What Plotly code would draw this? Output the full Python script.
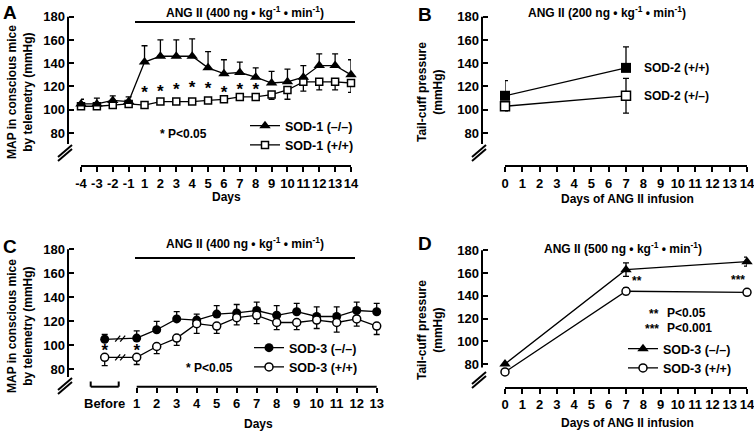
import plotly.graph_objects as go

W, H = 754, 432
FONT = "Liberation Sans, Arial"


def px(x):
    return x / W


def py(y):
    return 1 - y / H


# ---------------- data ----------------
# Panel A  (telemetry, SOD-1)
a_days = ["-4", "-3", "-2", "-1", "1", "2", "3", "4", "5", "6", "7", "8", "9", "10", "11", "12", "13", "14"]
a_ko = [105, 105, 108, 107, 141, 146, 146, 146, 136, 131, 132, 128, 123, 124, 128, 138, 138, 130]
a_ko_err = [4, 5, 4, 4, 14, 14, 14, 15, 14, 12, 9, 8, 10, 11, 10, 10, 10, 13]
a_wt = [103, 103, 104, 105, 104, 107, 107, 107, 108, 109, 111, 111, 113, 117, 124, 124, 124, 123]
a_wt_err = [2, 2, 2, 2, 2, 2, 2, 2, 2, 2, 2, 2, 4, 8, 8, 7, 7, 8]
a_sig_days = ["1", "2", "3", "4", "5", "6", "7", "8"]
a_sig_y = [114, 115, 116, 118, 117, 114, 116, 116]

# Panel B  (tail cuff, SOD-2)
b_days = [0, 7]
b_wt = [112, 136]
b_wt_err = [13, 18]
b_het = [103, 112]
b_het_err = [4, 15]

# Panel C  (telemetry, SOD-3)
c_labels = ["Before", "1", "2", "3", "4", "5", "6", "7", "8", "9", "10", "11", "12", "13"]
c_ko = [105, 106, 113, 122, 121, 126, 127, 129, 125, 128, 124, 124, 129, 128]
c_ko_err = [4, 6, 7, 6, 5, 7, 7, 7, 8, 7, 8, 8, 7, 7]
c_wt = [90, 90, 99, 106, 118, 116, 123, 125, 119, 119, 121, 119, 122, 116]
c_wt_err = [7, 6, 6, 6, 8, 6, 6, 7, 6, 6, 7, 8, 6, 7]
c_sig_labels = ["Before", "1"]
c_sig_y = [95, 95]

# Panel D  (tail cuff, SOD-3)
d_days = [0, 7, 14]
d_ko = [80, 163, 170]
d_ko_err = [0, 6, 4]
d_wt = [73, 144, 143]
d_wt_err = [0, 3, 1]

y_ticks = [80, 100, 120, 140, 160, 180]

# ---------------- helpers ----------------
BLACK = "black"
C_BEFORE_POS = -0.6
c_pos = [C_BEFORE_POS] + [int(v) for v in c_labels[1:]]
c_sig_pos = [c_pos[c_labels.index(l)] for l in c_sig_labels]


def y_setup(p180, ppu, pbottom, vtop=182):
    ptop = p180 - (vtop - 180) * ppu
    vbot = 180 - (pbottom - p180) / ppu
    return dict(domain=[py(pbottom), py(ptop)], range=[vbot, vtop])


def err(plus, minus):
    return dict(type="data", symmetric=False, array=plus, arrayminus=minus,
                color=BLACK, thickness=1.3, width=3)


def zeros(n):
    return [0] * n


FS_TICK = 13
FS = 12
FS_LEG = 12.5
tickfont = dict(family=FONT, size=FS_TICK, color=BLACK, weight="bold")

fig = go.Figure()

# ---- Panel A ----
fig.add_trace(go.Scatter(x=a_days, y=a_wt, mode="lines+markers", name="SOD-1 (+/+)",
                         xaxis="x", yaxis="y", legend="legend", cliponaxis=False,
                         line=dict(color=BLACK, width=1.3),
                         marker=dict(symbol="square", size=7, color="white", line=dict(color=BLACK, width=1.5)),
                         error_y=err(zeros(len(a_wt)), a_wt_err)))
fig.add_trace(go.Scatter(x=a_days, y=a_ko, mode="lines+markers", name="SOD-1 (\u2013/\u2013)",
                         xaxis="x", yaxis="y", legend="legend", cliponaxis=False,
                         line=dict(color=BLACK, width=1.3),
                         marker=dict(symbol="triangle-up", size=10, color=BLACK),
                         error_y=err(a_ko_err, zeros(len(a_ko)))))
fig.add_trace(go.Scatter(x=a_sig_days, y=a_sig_y, mode="text", text=["*"] * len(a_sig_days),
                         textfont=dict(family=FONT, size=17, color=BLACK, weight="bold"),
                         xaxis="x", yaxis="y", showlegend=False, cliponaxis=False))

# ---- Panel B ----
fig.add_trace(go.Scatter(x=b_days, y=b_het, mode="lines+markers", showlegend=False,
                         xaxis="x2", yaxis="y2", cliponaxis=False,
                         line=dict(color=BLACK, width=1.3),
                         marker=dict(symbol="square", size=9, color="white", line=dict(color=BLACK, width=1.5)),
                         error_y=err(b_het_err, b_het_err)))
fig.add_trace(go.Scatter(x=b_days, y=b_wt, mode="lines+markers", showlegend=False,
                         xaxis="x2", yaxis="y2", cliponaxis=False,
                         line=dict(color=BLACK, width=1.3),
                         marker=dict(symbol="square", size=10, color=BLACK),
                         error_y=err(b_wt_err, zeros(len(b_wt)))))

# ---- Panel C ----
fig.add_trace(go.Scatter(x=c_pos, y=c_ko, mode="lines+markers", name="SOD-3 (\u2013/\u2013)",
                         xaxis="x3", yaxis="y3", legend="legend2", cliponaxis=False,
                         line=dict(color=BLACK, width=1.3),
                         marker=dict(symbol="circle", size=9, color=BLACK),
                         error_y=err(c_ko_err, zeros(len(c_ko)))))
fig.add_trace(go.Scatter(x=c_pos, y=c_wt, mode="lines+markers", name="SOD-3 (+/+)",
                         xaxis="x3", yaxis="y3", legend="legend2", cliponaxis=False,
                         line=dict(color=BLACK, width=1.3),
                         marker=dict(symbol="circle", size=8, color="white", line=dict(color=BLACK, width=1.5)),
                         error_y=err(zeros(len(c_wt)), c_wt_err)))
fig.add_trace(go.Scatter(x=c_sig_pos, y=c_sig_y, mode="text", text=["*"] * len(c_sig_pos),
                         textfont=dict(family=FONT, size=17, color=BLACK, weight="bold"),
                         xaxis="x3", yaxis="y3", showlegend=False, cliponaxis=False))

# ---- Panel D ----
fig.add_trace(go.Scatter(x=d_days, y=d_ko, mode="lines+markers", name="SOD-3 (\u2013/\u2013)",
                         xaxis="x4", yaxis="y4", legend="legend3", cliponaxis=False,
                         line=dict(color=BLACK, width=1.3),
                         marker=dict(symbol="triangle-up", size=10, color=BLACK),
                         error_y=err(d_ko_err, d_ko_err)))
fig.add_trace(go.Scatter(x=d_days, y=d_wt, mode="lines+markers", name="SOD-3 (+/+)",
                         xaxis="x4", yaxis="y4", legend="legend3", cliponaxis=False,
                         line=dict(color=BLACK, width=1.3),
                         marker=dict(symbol="circle", size=8, color="white", line=dict(color=BLACK, width=1.5)),
                         error_y=err(d_wt_err, d_wt_err)))

# ---------------- axes ----------------
common_x = dict(showgrid=False, zeroline=False, ticks="outside", ticklen=5, tickwidth=2,
                tickcolor=BLACK, linecolor=BLACK, linewidth=2, tickfont=tickfont, fixedrange=True,
                tickangle=0, automargin=False, ticklabeloverflow="allow")
common_y = dict(showgrid=False, zeroline=False, ticks="inside", ticklen=5, tickwidth=2,
                tickcolor=BLACK, showline=False, tickmode="array", tickvals=y_ticks, tickfont=tickfont,
                anchor="free", ticklabelstandoff=3, fixedrange=True, automargin=False)

AB_Y = y_setup(16.7, 1.163, 165)
C_Y = y_setup(249.3, 1.2, 386.7)
D_Y = y_setup(250.3, 1.137, 386.7)

C_LEFT, C_RIGHT = 68, 386.7
C_PPU = 20.0
c_range = [1 - (136.7 - C_LEFT) / C_PPU, 13 + (C_RIGHT - 376.7) / C_PPU]

fig.update_layout(
    template="none",
    xaxis=dict(common_x, domain=[px(81), px(351)], type="category", categoryorder="array",
               categoryarray=a_days, range=[0, len(a_days) - 1], tickmode="array",
               tickvals=a_days, ticktext=a_days, anchor="y", showline=True),
    yaxis=dict(common_y, **AB_Y, position=px(68)),
    xaxis2=dict(common_x, domain=[px(505), px(747)], range=[0, 14], tickmode="array",
                tickvals=list(range(15)), anchor="y2", showline=True),
    yaxis2=dict(common_y, **AB_Y, position=px(482)),
    xaxis3=dict(common_x, domain=[px(C_LEFT), px(C_RIGHT)], range=c_range, tickmode="array",
                tickvals=c_pos[1:], ticktext=c_labels[1:], anchor="y3", showline=False),
    yaxis3=dict(common_y, **C_Y, position=px(68)),
    xaxis4=dict(common_x, domain=[px(505), px(747)], range=[0, 14], tickmode="array",
                tickvals=list(range(15)), anchor="y4", showline=True),
    yaxis4=dict(common_y, **D_Y, position=px(482)),
)

# ---------------- shapes ----------------
shapes = []


def vline_axis(xpos_px, yref, vtop, vbot):
    shapes.append(dict(type="line", xref="paper", yref=yref, x0=px(xpos_px), x1=px(xpos_px),
                       y0=vtop, y1=vbot, line=dict(color=BLACK, width=2)))


vline_axis(68, "y", 180, 70.5)
vline_axis(482, "y2", 180, 70.5)
vline_axis(68, "y3", 180, 73.6)
vline_axis(482, "y4", 180, 77.0)


def axis_break(cx, cy):
    for dy in (0, -4):
        shapes.append(dict(type="line", xref="paper", yref="paper", xsizemode="pixel", ysizemode="pixel",
                           xanchor=px(cx), yanchor=py(cy), x0=-8, y0=-6 + dy, x1=6, y1=6 + dy,
                           line=dict(color=BLACK, width=2)))


axis_break(66, 151)
axis_break(480, 151)
axis_break(66, 384)
axis_break(480, 378)

# ANG II bars
for ybar in (22, 258):
    shapes.append(dict(type="line", xref="paper", yref="paper", x0=px(135), x1=px(355),
                       y0=py(ybar), y1=py(ybar), line=dict(color=BLACK, width=2)))

# Panel C day axis line and "Before" bracket
shapes.append(dict(type="line", xref="x3", yref="paper", x0=1, x1=13, y0=py(386.7), y1=py(386.7),
                   line=dict(color=BLACK, width=2)))
shapes.append(dict(type="line", xref="x3", yref="paper", x0=C_BEFORE_POS - 0.7, x1=C_BEFORE_POS + 0.7,
                   y0=py(386.7), y1=py(386.7), line=dict(color=BLACK, width=2)))
for xe in (C_BEFORE_POS - 0.7, C_BEFORE_POS + 0.7):
    shapes.append(dict(type="line", xref="x3", yref="paper", x0=xe, x1=xe,
                       y0=py(386.7), y1=py(381.5), line=dict(color=BLACK, width=2)))

# break marks on the Before -> day 1 segments
for series in (c_ko, c_wt):
    mx = (c_pos[0] + c_pos[1]) / 2
    my = (series[0] + series[1]) / 2
    for dx in (-3, 2):
        shapes.append(dict(type="line", xref="x3", yref="y3", xsizemode="pixel", ysizemode="pixel",
                           xanchor=mx, yanchor=my, x0=dx - 2.5, y0=-3, x1=dx + 2.5, y1=3,
                           line=dict(color=BLACK, width=1.3)))

fig.update_layout(shapes=shapes)

# ---------------- annotations ----------------
ann = []


def note(text, x, y, size=FS, xanchor="center", angle=0, xref="paper", yref="paper"):
    ann.append(dict(text=text, x=x, y=y, xref=xref, yref=yref, xanchor=xanchor, yanchor="middle",
                    showarrow=False, textangle=angle,
                    font=dict(family=FONT, size=size, color=BLACK, weight="bold")))


SUPM1 = "<sup>-1</sup>"
note(f"ANG II (400 ng \u2022 kg{SUPM1} \u2022 min{SUPM1})", px(245), py(12))
note(f"ANG II (200 ng \u2022 kg{SUPM1} \u2022 min{SUPM1})", px(607), py(12))
note(f"ANG II (400 ng \u2022 kg{SUPM1} \u2022 min{SUPM1})", px(245), py(243))
note(f"ANG II (500 ng \u2022 kg{SUPM1} \u2022 min{SUPM1})", px(623), py(248))

note("A", px(10), py(12), size=19)
note("B", px(425), py(14), size=19)
note("C", px(10), py(246), size=19)
note("D", px(425), py(243), size=19)

note("MAP in conscious mice<br>by telemetry (mmHg)", px(20), py(92), angle=-90)
note("MAP in conscious mice<br>by telemetry (mmHg)", px(20), py(326), angle=-90)
note("Tail-cuff pressure<br>(mmHg)", px(430), py(92), angle=-90)
note("Tail-cuff pressure<br>(mmHg)", px(430), py(330), angle=-90)

note("Days", px(226), py(197))
note("Days of ANG II infusion", px(627), py(199))
note("Days", px(258), py(424))
note("Days of ANG II infusion", px(627), py(423))
note("Before", C_BEFORE_POS, py(403), xref="x3", size=FS_TICK)

note("* P<0.05", px(183), py(134))
note("* P<0.05", px(209), py(368))

note("SOD-2 (+/+)", px(642), py(68), xanchor="left")
note("SOD-2 (+/\u2013)", px(642), py(96), xanchor="left")

note("**", px(637), py(281))
note("***", px(738), py(280))
note("**", px(661), py(314), xanchor="right")
note("P<0.05", px(665), py(313), xanchor="left")
note("***", px(661), py(329), xanchor="right")
note("P<0.001", px(665), py(328), xanchor="left")

fig.update_layout(annotations=ann)

leg_common = dict(xanchor="left", yanchor="top", bgcolor="rgba(0,0,0,0)", borderwidth=0,
                  font=dict(family=FONT, size=FS_LEG, color=BLACK, weight="bold"),
                  itemwidth=30, tracegroupgap=0)
fig.update_layout(
    legend=dict(leg_common, x=px(245), y=py(111), traceorder="reversed"),
    legend2=dict(leg_common, x=px(249), y=py(333), traceorder="normal"),
    legend3=dict(leg_common, x=px(623), y=py(334), traceorder="normal"),
    width=W, height=H, margin=dict(l=0, r=0, t=0, b=0),
    paper_bgcolor="white", plot_bgcolor="white", showlegend=True,
)

fig.write_html("out.html", config={"displayModeBar": False},
               post_script="document.body.style.margin='0px';")
